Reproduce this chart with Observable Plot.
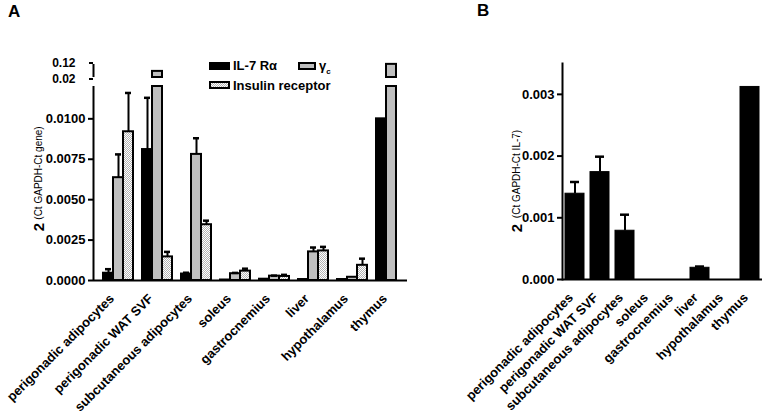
<!DOCTYPE html>
<html><head><meta charset="utf-8">
<script src="https://cdn.jsdelivr.net/npm/d3@7"></script>
<script src="https://cdn.jsdelivr.net/npm/@observablehq/plot@0.6"></script>
<style>
  html, body { margin: 0; padding: 0; background: white; }
  #chart { position: relative; width: 765px; height: 415px; overflow: hidden; font-family: 'Liberation Sans', Arial, sans-serif; color: black; }
  .abs { position: absolute; white-space: nowrap; }
  .rot { transform: translate(-50%, -50%) rotate(-90deg); }
  .title { font-weight: bold; font-size: 17px; }
  .leg { font-weight: bold; font-size: 13px; line-height: 13px; }
</style>
</head><body>
<svg width="0" height="0" style="position:absolute">
  <defs>
    <pattern id="dots" width="2" height="2" patternUnits="userSpaceOnUse">
      <rect width="2" height="2" fill="white"/>
      <rect x="0" y="0" width="1" height="1" fill="#b4b4b4"/>
      <rect x="1" y="1" width="1" height="1" fill="#b4b4b4"/>
    </pattern>
  </defs>
</svg>
<div id="chart"></div>
<script>
// ---------- data ----------
const tissues = ["perigonadic adipocytes", "perigonadic WAT SVF", "subcutaneous adipocytes", "soleus", "gastrocnemius", "liver", "hypothalamus", "thymus"];
const seriesA = ["IL-7 Rα", "γc", "Insulin receptor"];

// Panel A: 2^(Ct GAPDH - Ct gene)
const il7ra    = [0.00045, 0.0081, 0.0004, 0.00003, 0.00008, 0.00006, 0.00006, 0.0100];
const il7raErr = [0.0007, 0.0113, 0.00048, null, null, null, null, null];
const gammaC    = [0.00636, 0.067, 0.0078, 0.00042, 0.00027, 0.00177, 0.0002, 0.121];
const gammaCErr = [0.0078, null, 0.0088, 0.00047, 0.0003, 0.00204, null, null];
const insR    = [0.0092, 0.00146, 0.00345, 0.00058, 0.00025, 0.00183, 0.00094, 0];
const insRErr = [0.0116, 0.00177, 0.0037, 0.00073, 0.00035, 0.00208, 0.00135, null];

// Panel B: 2^(Ct GAPDH - Ct IL-7)
const il7    = [0.00139, 0.00174, 0.00079, 0, 0, 0.00019, 0, 0.00312];
const il7Err = [0.00158, 0.00199, 0.00105, null, null, 0.00021, null, null];

// axis ticks / break
const yTicksA = [0, 0.0025, 0.005, 0.0075, 0.01];
const yTicksAUpper = [0.02, 0.12];
const yTicksB = [0, 0.001, 0.002, 0.003];
const lowerMax = 0.012, upperMin = 0.02, upperMax = 0.12;
const yMaxB = 0.0035;

// ---------- build rows ----------
const valsA = [il7ra, gammaC, insR], errsA = [il7raErr, gammaCErr, insRErr];
const rowsA = tissues.flatMap((t, i) => seriesA.map((s, j) => ({tissue: t, series: s, value: valsA[j][i], err: errsA[j][i]})));
const rowsB = tissues.map((t, i) => ({tissue: t, value: il7[i], err: il7Err[i]}));

const W = 765, H = 415;
const baseStyle = {background: "transparent", fontFamily: "'Liberation Sans', Arial, sans-serif", fontSize: "13px", fontWeight: "bold", color: "black", position: "absolute", left: "0px", top: "0px", overflow: "visible"};
const colorA = {domain: seriesA, range: ["black", "#bfbfbf", "url(#dots)"]};

// Panel A geometry
const A = {marginLeft: 93, marginRight: W - 407};
const lowerM = {marginTop: 86, marginBottom: H - 280};
const upperM = {marginTop: 64, marginBottom: H - 77};
const fxA = {domain: tissues, padding: 0};
const xA = {domain: seriesA, paddingInner: 0, paddingOuter: 0.4, align: 0.96, axis: null};

const chart = document.getElementById("chart");

// A lower bars
chart.append(Plot.plot({
  width: W, height: H, ...A, ...lowerM, style: baseStyle,
  fx: {...fxA}, x: xA, y: {domain: [0, lowerMax], axis: null}, color: colorA,
  marks: [
    Plot.barY(rowsA, {fx: "tissue", x: "series", y1: 0, y2: d => Math.min(d.value, lowerMax), fill: "series", stroke: "black", strokeWidth: 2}),
    Plot.ruleX(rowsA.filter(d => d.err != null && d.err < lowerMax), {fx: "tissue", x: "series", y1: "value", y2: "err", strokeWidth: 2}),
    Plot.tickY(rowsA.filter(d => d.err != null && d.err < lowerMax), {fx: "tissue", x: "series", y: "err", strokeWidth: 2.5, insetLeft: 2, insetRight: 2}),
    Plot.axisFx({anchor: "bottom", tickRotate: -45, tickSize: 0, tickPadding: 16, dx: -2, label: null, fontSize: 13})
  ]
}));

// A lower axis
chart.append(Plot.plot({
  width: W, height: H, ...A, ...lowerM, style: baseStyle,
  x: {domain: [0, 1], axis: null}, y: {domain: [0, lowerMax], axis: null},
  marks: [
    Plot.axisY({ticks: yTicksA, tickFormat: d3.format(".4f"), tickSize: 5, tickPadding: 3, strokeWidth: 2, label: null}),
    Plot.ruleX([0], {strokeWidth: 2}),
    Plot.ruleY([0], {strokeWidth: 2})
  ]
}));

// A upper bars
chart.append(Plot.plot({
  width: W, height: H, ...A, ...upperM, style: baseStyle,
  fx: {...fxA, axis: null}, x: xA, y: {domain: [upperMin, upperMax], axis: null}, color: colorA,
  marks: [
    Plot.barY(rowsA.filter(d => d.value > upperMin), {fx: "tissue", x: "series", y1: upperMin, y2: "value", fill: "series", stroke: "black", strokeWidth: 2})
  ]
}));

// A upper axis (broken segment)
chart.append(Plot.plot({
  width: W, height: H, ...A, ...upperM, style: baseStyle,
  x: {domain: [0, 1], axis: null}, y: {domain: [upperMin, upperMax], axis: null},
  marks: [
    Plot.axisY({ticks: [yTicksAUpper[1]], tickFormat: d3.format(".2f"), tickSize: 4, tickPadding: 14, strokeWidth: 2, label: null, fontSize: 12, dy: -1.5}),
    Plot.axisY({ticks: [yTicksAUpper[0]], tickFormat: d3.format(".2f"), tickSize: 4, tickPadding: 14, strokeWidth: 2, label: null, fontSize: 12, dy: 1.5}),
    Plot.ruleX([0], {strokeWidth: 2})
  ]
}));

// Panel B
chart.append(Plot.plot({
  width: W, height: H, marginLeft: 562, marginRight: 3, marginTop: 63, marginBottom: H - 279, style: baseStyle,
  x: {domain: tissues, paddingInner: 0.24, paddingOuter: 0.12, axis: null},
  y: {domain: [0, yMaxB], axis: null},
  marks: [
    Plot.barY(rowsB, {x: "tissue", y1: 0, y2: "value", fill: "black", stroke: "black", strokeWidth: 1}),
    Plot.ruleX(rowsB.filter(d => d.err != null), {x: "tissue", y1: "value", y2: "err", strokeWidth: 2}),
    Plot.tickY(rowsB.filter(d => d.err != null), {x: "tissue", y: "err", strokeWidth: 2.5, insetLeft: 5, insetRight: 5}),
    Plot.axisY({ticks: yTicksB, tickFormat: d3.format(".3f"), tickSize: 5, tickPadding: 3, strokeWidth: 2, label: null}),
    Plot.axisX({anchor: "bottom", tickRotate: -45, tickSize: 0, tickPadding: 16, dx: -4, label: null, fontSize: 13}),
    Plot.frame({anchor: "left", strokeWidth: 2}),
    Plot.ruleY([0], {strokeWidth: 2})
  ]
}));

// ---------- text overlays ----------
function addDiv(cls, style, html) {
  const d = document.createElement("div");
  d.className = cls;
  d.setAttribute("style", style);
  d.innerHTML = html;
  chart.append(d);
  return d;
}
addDiv("abs title", "left:8px; top:2px;", "A");
addDiv("abs title", "left:477px; top:1px;", "B");
addDiv("abs rot", "left:38px; top:227px; font-size:15px; font-weight:bold;", "2");
addDiv("abs rot", "left:38px; top:173px; font-size:10px;", "(Ct GAPDH-Ct gene)");
addDiv("abs rot", "left:516px; top:228px; font-size:15px; font-weight:bold;", "2");
addDiv("abs rot", "left:516px; top:174px; font-size:10px;", "(Ct GAPDH-Ct IL-7)");

// legend
addDiv("abs", "left:209px; top:62px; width:21px; height:8px; background:black;", "");
addDiv("abs leg", "left:233px; top:59px;", seriesA[0]);
addDiv("abs", "left:298px; top:62px; width:18px; height:8px; background:#bfbfbf; border:2px solid black; box-sizing:border-box;", "");
addDiv("abs leg", "left:319px; top:59px;", "γ<sub style='font-size:8px'>c</sub>");
addDiv("abs", "left:209px; top:81px; width:21px; height:8px; border:2px solid black; box-sizing:border-box; background-color:white; background-image:conic-gradient(#b4b4b4 25%, white 0 50%, #b4b4b4 0 75%, white 0); background-size:2px 2px;", "");
addDiv("abs leg", "left:233px; top:79px;", seriesA[2]);
</script>
</body></html>
